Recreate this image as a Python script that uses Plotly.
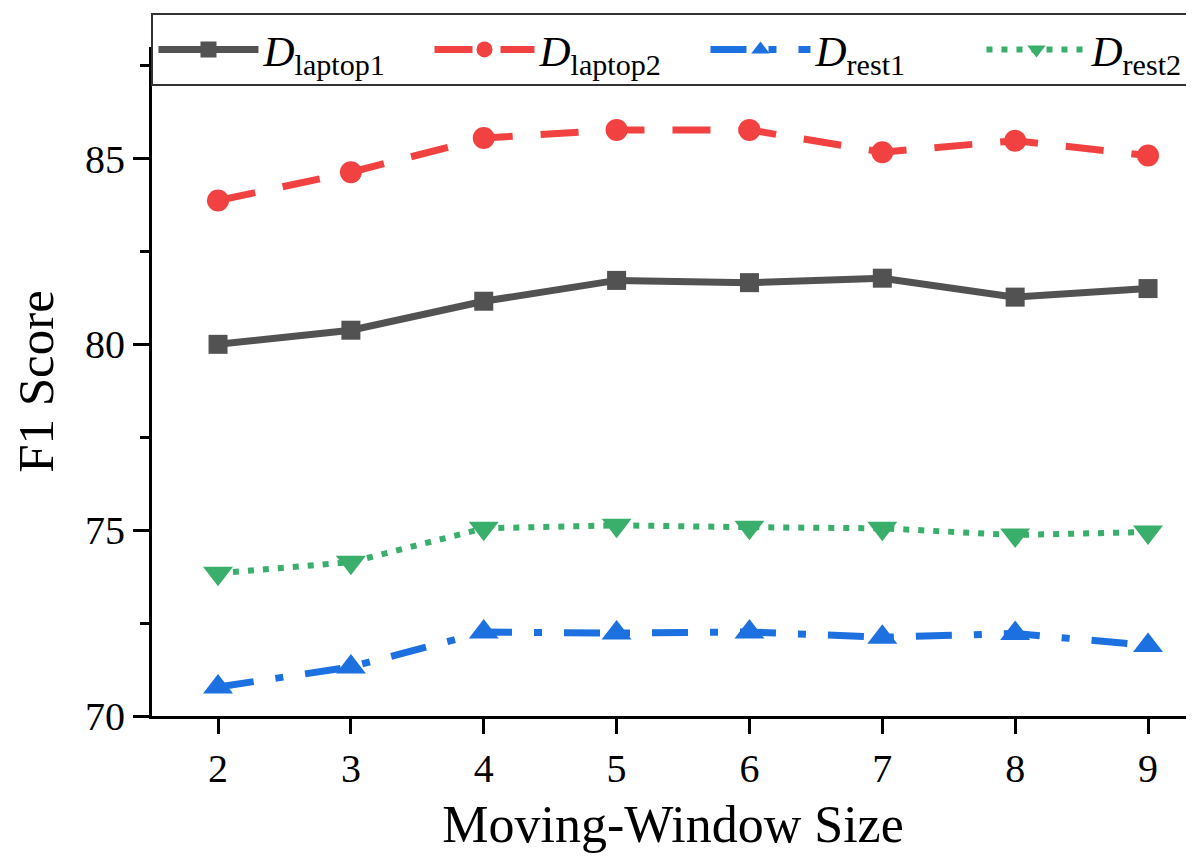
import plotly.graph_objects as go

window_sizes = [2, 3, 4, 5, 6, 7, 8, 9]
laptop1 = [80.0, 80.38, 81.16, 81.72, 81.66, 81.78, 81.27, 81.50]
laptop2 = [83.87, 84.63, 85.55, 85.77, 85.77, 85.17, 85.48, 85.08]
rest1 = [70.78, 71.32, 72.26, 72.23, 72.26, 72.12, 72.22, 71.90]
rest2 = [73.84, 74.14, 75.05, 75.13, 75.08, 75.05, 74.87, 74.95]

series_names = ["<i>D</i><sub>laptop1</sub>", "<i>D</i><sub>laptop2</sub>",
                "<i>D</i><sub>rest1</sub>", "<i>D</i><sub>rest2</sub>"]
y_ticks = [70, 75, 80, 85]
x_ticks = window_sizes

FONT = "Liberation Serif, Times New Roman, serif"

styles = [
    dict(color="#525252", dash="solid", symbol="square", size=19, width=7),
    dict(color="#F24141", dash="38px,28px", symbol="circle", size=22, width=7),
    dict(color="#1C70E0", dash="36px,22px,8px,22px", symbol="triangle-up", size=26, width=7),
    dict(color="#3AAE6B", dash="6px,9px", symbol="triangle-down", size=26, width=6),
]

fig = go.Figure()
for name, vals, st in zip(series_names, [laptop1, laptop2, rest1, rest2], styles):
    fig.add_trace(go.Scatter(
        x=window_sizes, y=vals, name=name, mode="lines+markers",
        line=dict(color=st["color"], width=st["width"], dash=st["dash"]),
        marker=dict(symbol=st["symbol"], size=st["size"], color=st["color"]),
    ))

# page body has an 8px margin, so the figure is 8px smaller than the window
fig.update_layout(
    width=1186, height=848,
    margin=dict(l=144, r=0, t=39, b=140, autoexpand=False),
    paper_bgcolor="white", plot_bgcolor="white",
    font=dict(family=FONT, color="black", size=40),
    showlegend=True,
    legend=dict(
        orientation="h", x=-0.0005, y=1.0508, xanchor="left", yanchor="top",
        bordercolor="#333", borderwidth=2, bgcolor="white",
        font=dict(family=FONT, size=43, color="black"),
        itemwidth=100, tracegroupgap=0, entrywidth=161,
    ),
    xaxis=dict(
        range=[1.503, 9.346], tickvals=x_ticks, ticks="outside", ticklen=15,
        tickwidth=3, tickcolor="black", showline=True, linecolor="black",
        linewidth=3, showgrid=False, zeroline=False,
        tickfont=dict(family=FONT, size=40),
        title=dict(text="Moving-Window Size", font=dict(family=FONT, size=52), standoff=16),
    ),
    yaxis=dict(
        range=[70, 88], tickvals=y_ticks, ticks="outside", ticklen=16,
        tickwidth=3, tickcolor="black", showline=True, linecolor="black",
        linewidth=3, showgrid=False, zeroline=False,
        minor=dict(dtick=2.5, tick0=70, ticks="outside", ticklen=9, tickwidth=3,
                   tickcolor="black", showgrid=False),
        tickfont=dict(family=FONT, size=40),
        title=dict(text="F1 Score", font=dict(family=FONT, size=51), standoff=22),
    ),
)

fig.write_html("out.html")
